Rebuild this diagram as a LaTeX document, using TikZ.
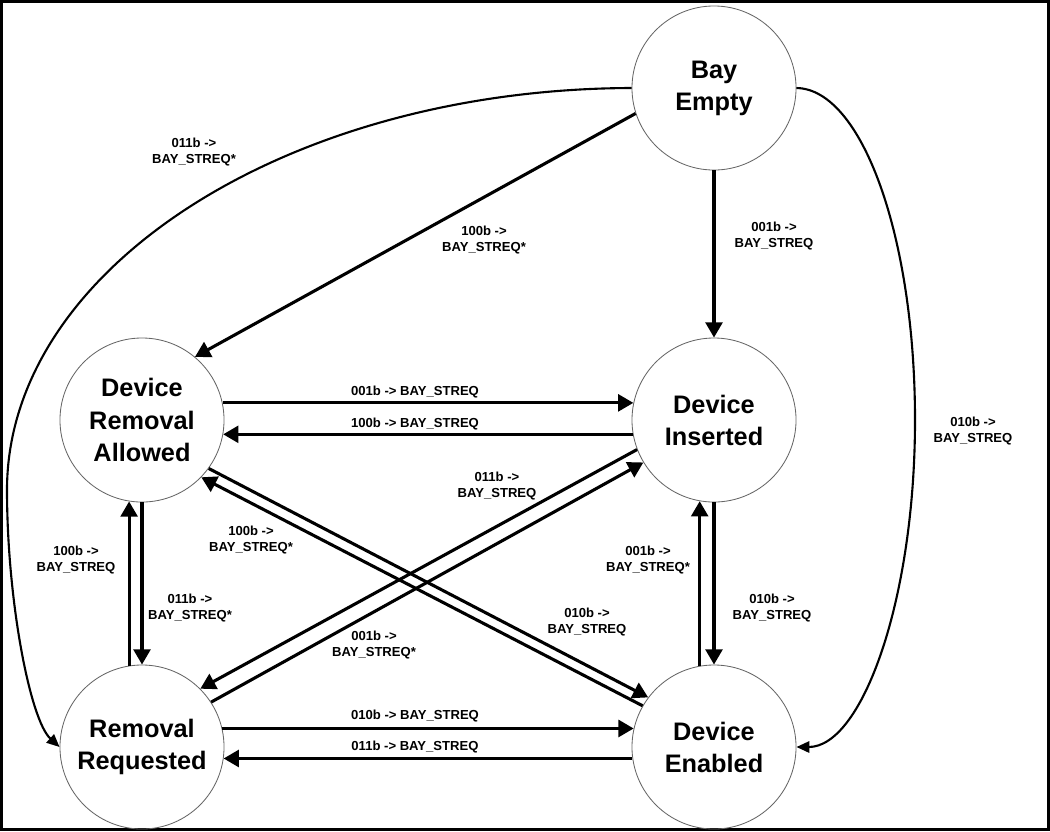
\documentclass[tikz,border=0pt]{standalone}
\usepackage{fontspec}
\setmainfont{Liberation Sans}
\usetikzlibrary{arrows.meta}

\tikzset{
  phase/.style={circle, draw=black!60, line width=0.6pt, minimum size=4.1cm, inner sep=0pt, align=center, font=\bfseries\fontsize{18}{22.8}\selectfont},
  trans/.style={line width=2.2pt, -{Triangle[length=0.38cm,width=0.42cm]}},
  sweep/.style={line width=1.5pt, -{Triangle[length=0.32cm,width=0.28cm]}},
  cond/.style={align=center, inner sep=1pt, font=\bfseries\fontsize{9.3}{11}\selectfont},
}

\begin{document}
\begin{tikzpicture}[x=0.025cm,y=-0.025cm]
\useasboundingbox (0,0) rectangle (1050,831);

% frame
\draw[line width=0.075cm] (1.5,1.5) rectangle (1048.5,829.5);

% states
\node[phase] (empty) at (714,88) {Bay\\Empty};
\node[phase] (allowed) at (142,420) {Device\\Removal\\Allowed};
\node[phase] (inserted) at (714,420) {Device\\Inserted};
\node[phase] (requested) at (142,747) {Removal\\Requested};
\node[phase] (enabled) at (714,747) {Device\\Enabled};

% transitions
\draw[trans] (empty.south) -- (inserted.north);
\draw[trans] (empty.198) -- (allowed.50);
\draw[trans] (allowed.12) -- (inserted.168);
\draw[trans] (inserted.190) -- (allowed.-10);
\draw[trans] (allowed.south) -- (requested.north);
\draw[trans] (requested.99) -- (allowed.261);
\draw[trans] (inserted.south) -- (enabled.north);
\draw[trans] (enabled.100) -- (inserted.260);
\draw[trans] (requested.13) -- (enabled.167);
\draw[trans] (enabled.188) -- (requested.-8);
\draw[trans] (allowed.-36) -- (enabled.143);
\draw[trans] (enabled.150) -- (allowed.-44);
\draw[trans] (inserted.201) -- (requested.45);
\draw[trans] (requested.33) -- (inserted.211);

% outer curves
\draw[sweep] (empty.west) .. controls (287,89) and (7,269) .. (7,490) .. controls (7,600) and (30,720) .. (requested.west);
\draw[sweep] (empty.east) .. controls (862,89) and (915,237) .. (915,420) .. controls (915,600) and (862,747) .. (enabled.east);

% conditions
\node[cond] (cEmptyReq) at (194,152) {011b ->\\BAY\_STREQ*};
\node[cond] (cEmptyAll) at (484,240) {100b ->\\BAY\_STREQ*};
\node[cond] (cEmptyIns) at (774,236) {001b ->\\BAY\_STREQ};
\node[cond] (cEmptyEna) at (973,431) {010b ->\\BAY\_STREQ};
\node[cond] (cAllIns) at (415,392) {001b -> BAY\_STREQ};
\node[cond] (cInsAll) at (415,424) {100b -> BAY\_STREQ};
\node[cond] (cInsReq) at (497,486) {011b ->\\BAY\_STREQ};
\node[cond] (cEnaAll) at (251,540) {100b ->\\BAY\_STREQ*};
\node[cond] (cReqAll) at (76,560) {100b ->\\BAY\_STREQ};
\node[cond] (cAllReq) at (190,608) {011b ->\\BAY\_STREQ*};
\node[cond] (cEnaIns) at (648,560) {001b ->\\BAY\_STREQ*};
\node[cond] (cInsEna) at (772,608) {010b ->\\BAY\_STREQ};
\node[cond] (cAllEna) at (587,622) {010b ->\\BAY\_STREQ};
\node[cond] (cReqIns) at (374,645) {001b ->\\BAY\_STREQ*};
\node[cond] (cReqEna) at (415,716) {010b -> BAY\_STREQ};
\node[cond] (cEnaReq) at (415,747) {011b -> BAY\_STREQ};

\end{tikzpicture}
\end{document}
